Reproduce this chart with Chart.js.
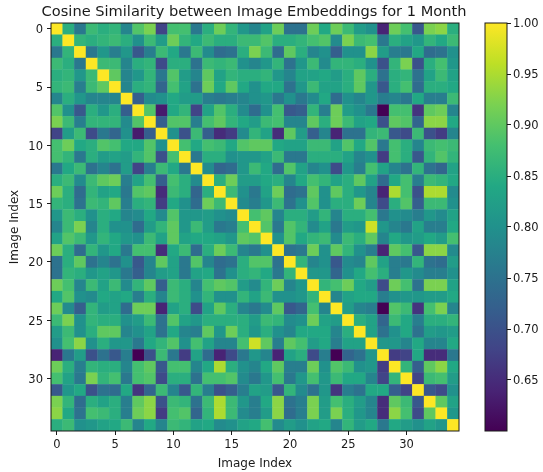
<!DOCTYPE html>
<html>
<head>
<meta charset="utf-8">
<title>Cosine Similarity</title>
<script src="https://cdn.jsdelivr.net/npm/chart.js@4"></script>
<style>
    html, body { margin: 0; padding: 0; background: #fff; overflow: hidden; }
    #heatWrap { position: absolute; left: 0; top: 0; width: 508px; height: 472px; }
    #barWrap { position: absolute; left: 470px; top: 0; width: 73px; height: 472px; }
</style>
</head>
<body>
<div id="heatWrap"><canvas id="heatChart"></canvas></div>
<div id="barWrap"><canvas id="colorBar"></canvas></div>
<script>
// upper triangle of the similarity matrix, row n starts at column n
var upperRows = [
    [1, .85, .76, .87, .85, .86, .78, .89, .92, .68, .88, .88, .76, .85, .91, .86, .81, .78, .83, .91, .75, .75, .91, .84, .91, .87, .82, .80, .64, .91, .88, .71, .92, .93, .85],
    [1, .86, .85, .86, .87, .85, .80, .87, .82, .91, .86, .84, .87, .85, .85, .87, .87, .89, .85, .85, .86, .88, .89, .79, .92, .87, .88, .76, .85, .83, .81, .86, .84, .87],
    [1, .76, .81, .77, .81, .71, .77, .87, .84, .76, .87, .79, .74, .75, .85, .92, .87, .74, .90, .85, .78, .80, .72, .80, .80, .93, .82, .77, .76, .84, .74, .75, .80],
    [1, .87, .87, .78, .85, .86, .69, .85, .85, .75, .87, .86, .87, .80, .78, .81, .86, .75, .81, .87, .79, .86, .86, .85, .80, .70, .86, .92, .70, .85, .88, .81],
    [1, .90, .78, .81, .86, .76, .89, .82, .78, .90, .83, .86, .85, .85, .86, .81, .78, .83, .83, .84, .82, .85, .90, .85, .75, .85, .86, .75, .83, .87, .83],
    [1, .78, .85, .86, .73, .88, .83, .75, .91, .84, .90, .84, .80, .84, .84, .75, .81, .87, .83, .83, .85, .90, .81, .71, .85, .88, .74, .85, .85, .84],
    [1, .72, .79, .80, .84, .82, .82, .77, .76, .77, .78, .80, .81, .76, .80, .76, .79, .84, .74, .80, .78, .81, .77, .78, .76, .84, .77, .77, .87],
    [1, .89, .63, .84, .86, .68, .83, .89, .85, .79, .74, .80, .88, .71, .72, .86, .77, .91, .82, .80, .76, .60, .88, .88, .66, .90, .91, .78],
    [1, .72, .89, .89, .77, .88, .90, .86, .84, .82, .87, .88, .78, .78, .90, .85, .91, .87, .83, .84, .70, .90, .89, .73, .93, .93, .84],
    [1, .80, .70, .87, .72, .65, .67, .79, .86, .83, .65, .90, .82, .72, .78, .64, .75, .75, .86, .87, .71, .69, .87, .70, .67, .78],
    [1, .88, .84, .88, .87, .84, .89, .90, .90, .84, .83, .83, .87, .87, .83, .89, .84, .89, .76, .88, .85, .78, .87, .88, .87],
    [1, .76, .85, .85, .80, .81, .81, .83, .87, .76, .76, .85, .85, .85, .83, .78, .80, .67, .88, .85, .71, .86, .89, .86],
    [1, .79, .73, .74, .81, .87, .84, .74, .89, .83, .78, .80, .69, .81, .77, .88, .83, .78, .75, .86, .75, .73, .83],
    [1, .85, .91, .82, .82, .84, .85, .78, .84, .88, .86, .83, .85, .90, .83, .74, .84, .88, .77, .87, .86, .84],
    [1, .87, .80, .76, .83, .91, .74, .75, .90, .80, .90, .85, .81, .78, .64, .95, .88, .70, .95, .95, .79],
    [1, .79, .77, .81, .87, .75, .80, .89, .80, .85, .85, .91, .78, .69, .85, .89, .72, .87, .87, .80],
    [1, .88, .90, .78, .85, .85, .82, .86, .78, .85, .85, .88, .76, .80, .79, .77, .81, .79, .83],
    [1, .89, .76, .89, .86, .79, .83, .76, .82, .81, .97, .81, .78, .76, .83, .77, .77, .84],
    [1, .80, .89, .84, .86, .87, .79, .87, .85, .90, .78, .84, .81, .82, .84, .82, .88],
    [1, .75, .76, .91, .80, .90, .86, .80, .77, .64, .90, .88, .71, .93, .93, .79],
    [1, .86, .78, .80, .71, .79, .78, .90, .83, .77, .76, .86, .75, .74, .82],
    [1, .81, .81, .73, .80, .84, .88, .85, .77, .81, .79, .77, .77, .80],
    [1, .86, .88, .91, .84, .82, .69, .91, .88, .75, .92, .92, .83],
    [1, .78, .83, .84, .84, .77, .80, .81, .81, .82, .82, .84],
    [1, .82, .78, .77, .60, .89, .87, .66, .88, .92, .78],
    [1, .85, .83, .73, .87, .84, .77, .85, .85, .86],
    [1, .83, .75, .80, .84, .75, .82, .81, .82],
    [1, .81, .81, .78, .84, .78, .78, .84],
    [1, .67, .68, .84, .65, .65, .76],
    [1, .86, .72, .90, .93, .84],
    [1, .68, .87, .88, .82],
    [1, .71, .69, .80],
    [1, .90, .83],
    [1, .81],
    [1]
];
var axisTicks = [0, 5, 10, 15, 20, 25, 30];
var colorTicks = [0.65, 0.70, 0.75, 0.80, 0.85, 0.90, 0.95, 1.00];
var viridis = ['#440154', '#482475', '#414487', '#355f8d', '#2a788e', '#21918c', '#22a884', '#44bf70', '#7ad151', '#bddf26', '#fde725'];
var colorMin = 0.6;
var colorMax = 1.0;

var inkColor = '#1a1a1a';
var tickFont = { family: 'DejaVu Sans', size: 11.5 };
// the empty first line below pushes y tick text down a little, onto its tick
var sideTickFont = { family: 'DejaVu Sans', size: 11.5, lineHeight: 0.23 };

function hexToRgb(hex) {
    return [1, 3, 5].map(function (i) { return parseInt(hex.substr(i, 2), 16); });
}

function colorFor(v) {
    var t = (v - colorMin) / (colorMax - colorMin) * (viridis.length - 1);
    t = Math.max(0, Math.min(viridis.length - 1, t));
    var i = Math.min(Math.floor(t), viridis.length - 2);
    var a = hexToRgb(viridis[i]);
    var b = hexToRgb(viridis[i + 1]);
    var f = t - i;
    return 'rgb(' + a.map(function (c, k) { return Math.round(c + (b[k] - c) * f); }).join(',') + ')';
}

// mirror the triangle into full cells
var cells = [];
upperRows.forEach(function (row, r) {
    row.forEach(function (v, k) {
        var c = r + k;
        cells.push({ x: c, y: r, v: v });
        if (c !== r) {
            cells.push({ x: r, y: c, v: v });
        }
    });
});

var framePlugin = {
    id: 'frame',
    afterDatasetsDraw: function (chart) {
        var a = chart.chartArea;
        var ctx = chart.ctx;
        ctx.save();
        ctx.strokeStyle = inkColor;
        ctx.lineWidth = 1;
        ctx.strokeRect(a.left, a.top, a.right - a.left, a.bottom - a.top);
        ctx.restore();
    }
};

function setTicks(scale) {
    scale.ticks = axisTicks.map(function (v) { return { value: v }; });
}

new Chart(document.getElementById('heatChart').getContext('2d'), {
    type: 'scatter',
    data: {
        datasets: [{
            data: cells,
            pointStyle: 'rect',
            borderWidth: 0,
            backgroundColor: function (c) { return c.raw ? colorFor(c.raw.v) : '#000'; },
            pointRadius: function (c) {
                var a = c.chart.chartArea;
                return a ? ((a.right - a.left) / upperRows.length / 2 + 0.2) * Math.SQRT2 : 1;
            }
        }]
    },
    plugins: [framePlugin],
    options: {
        responsive: true,
        maintainAspectRatio: false,
        animation: false,
        events: [],
        plugins: {
            legend: { display: false },
            tooltip: { enabled: false },
            title: {
                display: true,
                text: 'Cosine Similarity between Image Embeddings for 1 Month',
                color: inkColor,
                font: { family: 'DejaVu Sans', size: 14.6, weight: 'normal', lineHeight: 1.2 },
                padding: { top: 3.5, bottom: 2 }
            }
        },
        scales: {
            x: {
                type: 'linear',
                min: -0.5,
                max: 34.5,
                afterBuildTicks: setTicks,
                afterFit: function (scale) { scale.height = 41; },
                grid: { drawOnChartArea: false, drawTicks: true, tickLength: 4, tickColor: inkColor },
                border: { display: false },
                ticks: {
                    color: inkColor,
                    font: tickFont,
                    padding: 3.5,
                    maxRotation: 0,
                    autoSkip: false,
                    callback: function (v) { return String(v); }
                },
                title: {
                    display: true,
                    text: 'Image Index',
                    color: inkColor,
                    font: { family: 'DejaVu Sans', size: 12 },
                    padding: { top: 3, bottom: 1 }
                }
            },
            y: {
                type: 'linear',
                reverse: true,
                min: -0.5,
                max: 34.5,
                afterBuildTicks: setTicks,
                afterFit: function (scale) { scale.width = 51; },
                grid: { drawOnChartArea: false, drawTicks: true, tickLength: 4, tickColor: inkColor },
                border: { display: false },
                ticks: {
                    color: inkColor,
                    font: sideTickFont,
                    padding: 4,
                    autoSkip: false,
                    callback: function (v) { return ['', String(v)]; }
                },
                title: {
                    display: true,
                    text: 'Image Index',
                    color: inkColor,
                    font: { family: 'DejaVu Sans', size: 12 },
                    padding: { top: 8, bottom: 0 }
                }
            },
            // empty axis, only reserves the room the colour bar sits in so the title centres right
            spacer: {
                type: 'linear',
                axis: 'y',
                position: 'right',
                afterFit: function (scale) { scale.width = 49; },
                grid: { display: false },
                border: { display: false },
                ticks: { display: false }
            }
        }
    }
});

new Chart(document.getElementById('colorBar').getContext('2d'), {
    type: 'bar',
    data: {
        labels: ['scale'],
        datasets: [{
            data: [[colorMin, colorMax]],
            borderWidth: 0,
            borderSkipped: false,
            barPercentage: 1,
            categoryPercentage: 1,
            backgroundColor: function (c) {
                var a = c.chart.chartArea;
                if (!a) {
                    return viridis[5];
                }
                var g = c.chart.ctx.createLinearGradient(0, a.bottom, 0, a.top);
                viridis.forEach(function (col, i) {
                    g.addColorStop(i / (viridis.length - 1), col);
                });
                return g;
            }
        }]
    },
    plugins: [framePlugin],
    options: {
        responsive: true,
        maintainAspectRatio: false,
        animation: false,
        events: [],
        layout: { padding: { left: 15, right: 0, top: 23, bottom: 41 } },
        plugins: {
            legend: { display: false },
            tooltip: { enabled: false }
        },
        scales: {
            x: { display: false },
            y: {
                position: 'right',
                min: colorMin,
                max: colorMax,
                afterBuildTicks: function (scale) {
                    scale.ticks = colorTicks.map(function (v) { return { value: v }; });
                },
                afterFit: function (scale) { scale.width = 36; },
                grid: { drawOnChartArea: false, drawTicks: true, tickLength: 4, tickColor: inkColor },
                border: { display: false },
                ticks: {
                    color: inkColor,
                    font: sideTickFont,
                    padding: 2,
                    autoSkip: false,
                    callback: function (v) { return ['', v.toFixed(2)]; }
                }
            }
        }
    }
});
</script>
</body>
</html>
